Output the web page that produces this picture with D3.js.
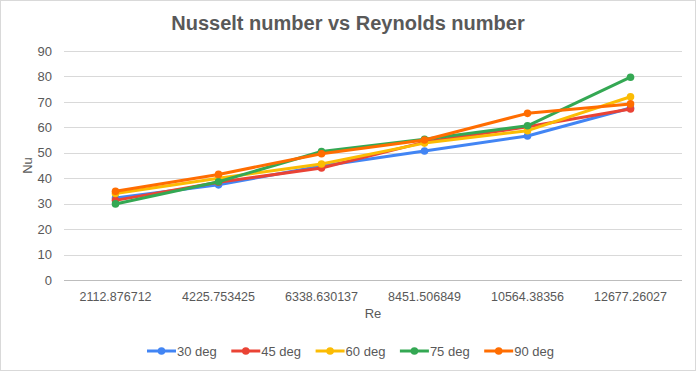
<!DOCTYPE html>
<html>
<head>
<meta charset="utf-8">
<script src="https://cdn.jsdelivr.net/npm/d3@7"></script>
<style>
  body { margin: 0; background: #fff; }
  svg { display: block; font-family: "Liberation Sans", Arial, sans-serif; }
</style>
</head>
<body>
<svg id="chart"></svg>
<script>
const categories = ['2112.876712', '4225.753425', '6338.630137', '8451.506849', '10564.38356', '12677.26027']
const seriesNames = ['30 deg', '45 deg', '60 deg', '75 deg', '90 deg']
const deg30 = [32.2, 37.4, 44.8, 50.7, 56.6, 67.6]
const deg45 = [31.3, 38.4, 44.0, 54.2, 60.2, 67.2]
const deg60 = [34.0, 40.0, 45.6, 53.8, 58.7, 72.0]
const deg75 = [29.9, 38.6, 50.5, 55.3, 60.6, 79.7]
const deg90 = [34.9, 41.5, 49.6, 55.0, 65.5, 69.2]
const yTicks = [0, 10, 20, 30, 40, 50, 60, 70, 80, 90]
const colors = ['#4285f4', '#ea4335', '#fbbc04', '#34a853', '#ff6d01']

const series = [deg30, deg45, deg60, deg75, deg90]

const w = 696
const h = 371
const margin = { top: 51, right: 14, bottom: 91, left: 64 }

const svg = d3.select('#chart')
    .attr('width', w)
    .attr('height', h)

svg.append('rect')
    .attr('x', 0.5).attr('y', 0.5)
    .attr('width', w - 1).attr('height', h - 1)
    .attr('fill', '#fff')
    .attr('stroke', '#d9d9d9')

const xScale = d3.scaleBand()
    .domain(categories)
    .range([margin.left, w - margin.right])

const yScale = d3.scaleLinear()
    .domain([0, 90])
    .range([h - margin.bottom, margin.top])

// gridlines
svg.append('g')
    .selectAll('line')
    .data(yTicks)
    .enter()
    .append('line')
    .attr('x1', margin.left)
    .attr('x2', w - margin.right)
    .attr('y1', d => Math.round(yScale(d)) + 0.5)
    .attr('y2', d => Math.round(yScale(d)) + 0.5)
    .attr('stroke', d => d === 0 ? '#bdbdbd' : '#d9d9d9')

const yAxis = d3.axisLeft(yScale).tickValues(yTicks).tickSize(0).tickPadding(12)
const yg = svg.append('g')
    .attr('transform', `translate(${margin.left}, 0)`)
    .call(yAxis)
yg.select('.domain').remove()
yg.selectAll('text').attr('fill', '#595959').style('font-size', '13px')

const xAxis = d3.axisBottom(xScale).tickSize(0).tickPadding(12)
const xg = svg.append('g')
    .attr('transform', `translate(0, ${h - margin.bottom})`)
    .call(xAxis)
xg.select('.domain').remove()
xg.selectAll('text').attr('fill', '#595959').style('font-size', '12.5px')

// titles
svg.append('text')
    .attr('x', w / 2)
    .attr('y', 30)
    .attr('text-anchor', 'middle')
    .attr('fill', '#595959')
    .style('font-size', '20px')
    .style('font-weight', 'bold')
    .text('Nusselt number vs Reynolds number')

svg.append('text')
    .attr('x', (margin.left + w - margin.right) / 2)
    .attr('y', 318)
    .attr('text-anchor', 'middle')
    .attr('fill', '#595959')
    .style('font-size', '13px')
    .text('Re')

svg.append('text')
    .attr('transform', `translate(32, ${yScale(45)}) rotate(-90)`)
    .attr('text-anchor', 'middle')
    .attr('fill', '#595959')
    .style('font-size', '13px')
    .text('Nu')

const cx = (d, i) => xScale(categories[i]) + xScale.bandwidth() / 2

const line = d3.line()
    .x(cx)
    .y(d => yScale(d))

series.forEach((s, k) => {
    svg.append('path')
        .datum(s)
        .attr('d', line)
        .attr('fill', 'none')
        .attr('stroke', colors[k])
        .attr('stroke-width', 3)
        .attr('stroke-linejoin', 'round')
    svg.append('g')
        .selectAll('circle')
        .data(s)
        .enter()
        .append('circle')
        .attr('cx', cx)
        .attr('cy', d => yScale(d))
        .attr('r', 3.8)
        .attr('fill', colors[k])
})

// legend
const legend = svg.append('g')
seriesNames.forEach((name, k) => {
    const x0 = 147 + k * 84.3
    const y0 = 351
    legend.append('line')
        .attr('x1', x0).attr('x2', x0 + 29)
        .attr('y1', y0).attr('y2', y0)
        .attr('stroke', colors[k])
        .attr('stroke-width', 3)
    legend.append('circle')
        .attr('cx', x0 + 14.5).attr('cy', y0)
        .attr('r', 3.8)
        .attr('fill', colors[k])
    legend.append('text')
        .attr('x', x0 + 30)
        .attr('y', y0 + 4.5)
        .attr('fill', '#595959')
        .style('font-size', '13px')
        .text(name)
})
</script>
</body>
</html>
